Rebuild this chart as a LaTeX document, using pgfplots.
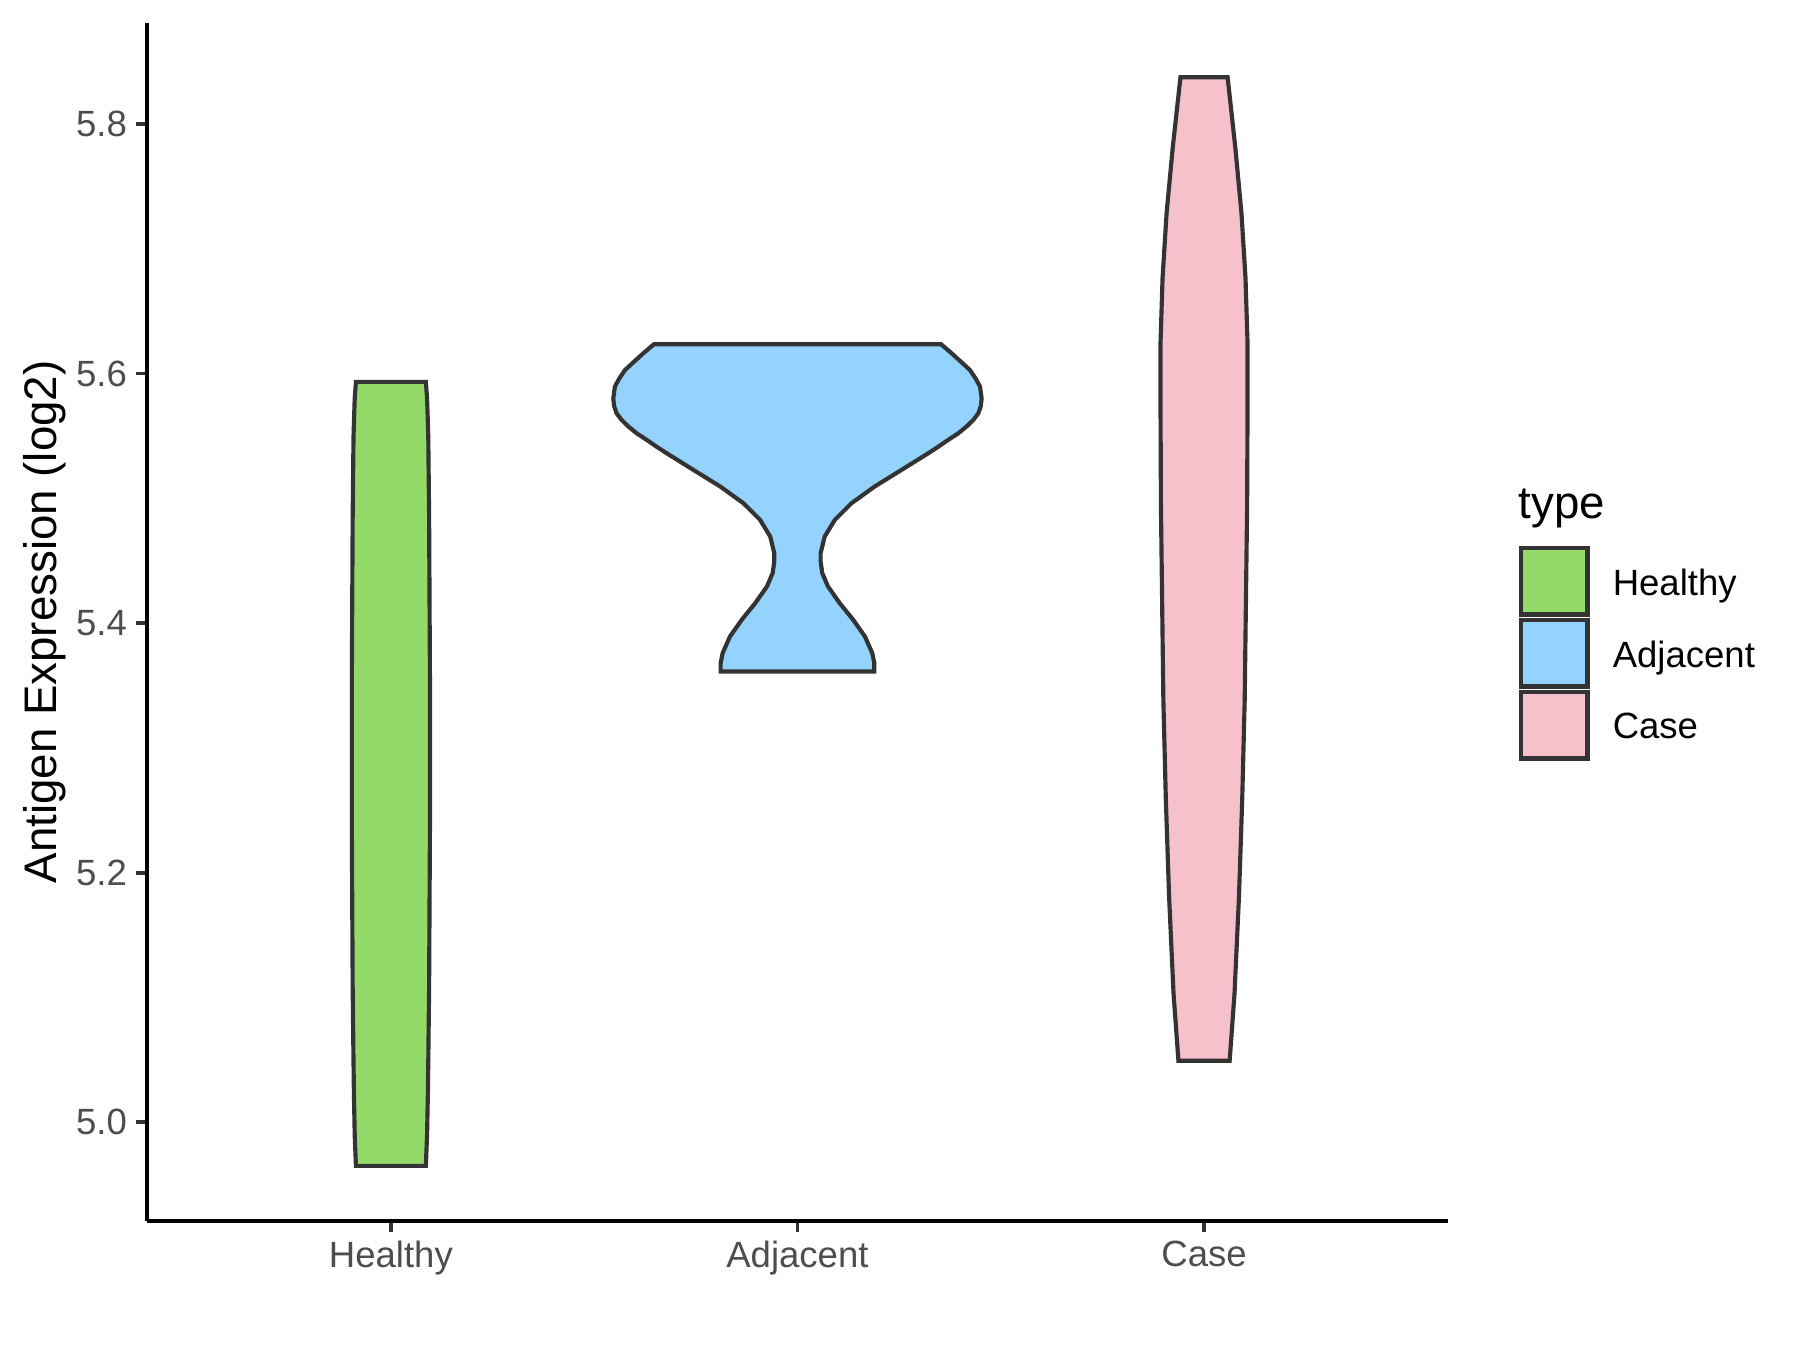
\documentclass[border=0pt]{standalone}
\usepackage{pgfplots}
\pgfplotsset{compat=1.18}
\usepackage{fontspec}
\setmainfont{Liberation Sans}
\definecolor{cHealthy}{HTML}{93DA69}
\definecolor{cAdjacent}{HTML}{93D3FE}
\definecolor{cCase}{HTML}{F7C1CC}
\definecolor{outl}{HTML}{333333}
\definecolor{labgray}{HTML}{4D4D4D}
\begin{document}
\begin{tikzpicture}
\begin{axis}[
  scale only axis,
  width=313.4pt, height=288.6pt,
  xmin=0.4, xmax=3.6, ymin=4.921, ymax=5.881,
  axis x line*=bottom, axis y line*=left,
  axis line style={black, line width=1pt},
  xtick={1,2,3}, xticklabels={Healthy,Adjacent,Case},
  ytick={5.0,5.2,5.4,5.6,5.8}, yticklabels={5.0,5.2,5.4,5.6,5.8},
  tick align=outside, major tick length=2.75pt,
  tick style={color=outl, line width=0.9pt},
  ticklabel style={font=\fontsize{8.8}{10}\selectfont, text=labgray, inner sep=0pt},
  xticklabel style={anchor=north, yshift=-1.9pt},
  yticklabel style={anchor=east, xshift=-1.9pt},
  ylabel={Antigen Expression (log2)},
  ylabel style={font=\fontsize{11}{13}\selectfont, at={(axis description cs:-0.0786,0.5)}, anchor=center},
  clip=false,
  legend cell align=left,
  legend image code/.code={\draw[#1] (0pt,-8pt) rectangle (16pt,8pt);},
  legend style={at={(1,1)}, anchor=north west, xshift=16.9pt, yshift=-125.8pt,
    draw=none, fill=none, inner sep=0pt, row sep=0.35pt, column sep=5.6pt,
    font=\fontsize{8.8}{10}\selectfont, nodes={inner sep=0pt, yshift=-0.9pt}},
]
\addplot[fill=cHealthy, draw=outl, line width=1pt] coordinates {
(0.914,5.5933) (1.086,5.5933) (1.089,5.580) (1.091,5.560) (1.092,5.5481) (1.094,5.4851)
(1.096,5.3593) (1.096,5.2335) (1.094,5.1077) (1.092,5.0500) (1.091,5.0238) (1.089,4.990) (1.086,4.9651)
(0.914,4.9651) (0.911,4.990) (0.909,5.0238) (0.908,5.0500) (0.906,5.1077) (0.904,5.2335) (0.904,5.3593)
(0.906,5.4851) (0.908,5.5481) (0.909,5.560) (0.911,5.580)
} -- cycle;
\addlegendentry{Healthy}
\addplot[fill=cAdjacent, draw=outl, line width=1pt] coordinates {
(1.647,5.6235) (2.353,5.6235) (2.379,5.6163) (2.402,5.6095) (2.424,5.6029) (2.438,5.5962) (2.449,5.5896)
(2.453,5.5802) (2.451,5.5740) (2.445,5.5682) (2.433,5.5630) (2.416,5.5576) (2.395,5.5520) (2.371,5.5469)
(2.347,5.5415) (2.322,5.5362) (2.256,5.5228) (2.190,5.5095) (2.133,5.4961) (2.092,5.4828) (2.067,5.4694)
(2.057,5.4561) (2.057,5.4494) (2.061,5.4401) (2.075,5.4294) (2.104,5.4160) (2.137,5.4027) (2.166,5.3893)
(2.184,5.3760) (2.189,5.3680) (2.189,5.3613)
(1.811,5.3613) (1.811,5.3680) (1.816,5.3760) (1.834,5.3893) (1.863,5.4027) (1.896,5.4160) (1.925,5.4294)
(1.939,5.4401) (1.943,5.4494) (1.943,5.4561) (1.933,5.4694) (1.908,5.4828) (1.867,5.4961) (1.810,5.5095)
(1.744,5.5228) (1.678,5.5362) (1.653,5.5415) (1.629,5.5469) (1.605,5.5520) (1.584,5.5576) (1.567,5.5630)
(1.555,5.5682) (1.549,5.5740) (1.547,5.5802) (1.551,5.5896) (1.562,5.5962) (1.576,5.6029) (1.598,5.6095)
(1.621,5.6163)
} -- cycle;
\addlegendentry{Adjacent}
\addplot[fill=cCase, draw=outl, line width=1pt] coordinates {
(2.942,5.8374) (3.058,5.8374) (3.077,5.7810) (3.092,5.7289) (3.102,5.6767) (3.107,5.6246) (3.107,5.5724)
(3.106,5.4942) (3.103,5.4160) (3.100,5.3378) (3.094,5.2595) (3.086,5.1813) (3.075,5.1031) (3.063,5.0494)
(2.937,5.0494) (2.925,5.1031) (2.914,5.1813) (2.906,5.2595) (2.900,5.3378) (2.897,5.4160) (2.894,5.4942)
(2.893,5.5724) (2.893,5.6246) (2.898,5.6767) (2.908,5.7289) (2.923,5.7810)
} -- cycle;
\addlegendentry{Case}
\node[anchor=base west, inner sep=0pt, font=\fontsize{11}{13}\selectfont, xshift=16.9pt, yshift=-119.45pt] at (rel axis cs:1,1) {type};
\end{axis}
\pgfresetboundingbox
\path (current axis.south west) ++(-35.4pt,-31.1pt) rectangle ++(433.6pt,325.2pt);
\end{tikzpicture}
\end{document}
